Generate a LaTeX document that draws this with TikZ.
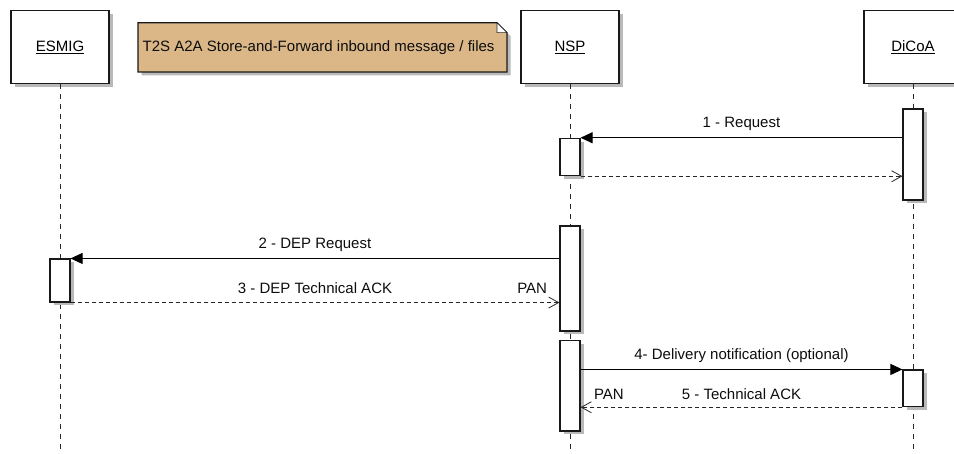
\documentclass[tikz,border=0pt]{standalone}
\usepackage{fontspec}
\setmainfont{Liberation Sans}
\usetikzlibrary{arrows.meta,shadows}
\definecolor{notetan}{RGB}{219,183,136}
\definecolor{shadowgrey}{RGB}{185,185,185}
\begin{document}
\begin{tikzpicture}[x=1pt,y=-1pt,
  font=\fontsize{15}{18}\selectfont,
  shad/.style={general shadow={fill=shadowgrey, shadow xshift=3.5pt, shadow yshift=-3.5pt}},
  header/.style={draw=black!90, fill=white, line width=1.2pt, minimum width=98pt, minimum height=73pt, inner sep=0pt, shad},
  act/.style={draw=black!90, fill=white, line width=1.1pt, minimum width=20pt, inner sep=0pt, shad},
  life/.style={draw=black!85, line width=0.9pt, dash pattern=on 5pt off 5pt},
  msg/.style={draw=black, line width=1pt, -{Triangle[length=12pt,width=11pt]}},
  ret/.style={draw=black!85, line width=0.9pt, dash pattern=on 4pt off 3pt, -{Straight Barb[length=10pt,width=11pt,line width=0.8pt]}},
  lbl/.style={text=black!95, inner sep=0pt}]
\useasboundingbox (0,0) rectangle (954,454);
\clip (0,0) rectangle (954,454);

% header boxes
\node[header] (esmig) at (60,47.3) {\underline{ESMIG}};
\node[header] (nsp) at (570,47.3) {\underline{NSP}};
\node[header] (dicoa) at (913,47.3) {\underline{DiCoA}};

% note
\fill[shadowgrey, shift={(3.5,3.5)}] (138,22.7) -- (497,22.7) -- (507,32.7) -- (507,72) -- (138,72) -- cycle;
\filldraw[fill=notetan, draw=black!90, line width=1.2pt] (138,22.7) -- (497,22.7) -- (507,32.7) -- (507,72) -- (138,72) -- cycle;
\filldraw[fill=white, draw=black!85, line width=0.6pt] (497,22.7) -- (507,32.7) -- (497,32.7) -- cycle;
\node[lbl, anchor=west] (notetext) at (142.5,47.3) {T2S A2A Store-and-Forward inbound message / files};

% lifelines
\coordinate (esmigEnd) at (60,454);
\coordinate (nspEnd) at (570,454);
\coordinate (dicoaEnd) at (913,454);
\draw[life] (esmig.south) -- (esmigEnd);
\draw[life] (nsp.south) -- (nspEnd);
\draw[life] (dicoa.south) -- (dicoaEnd);

% activation boxes
\node[act, minimum height=37.4pt] (a1) at (570,157) {};
\node[act, minimum height=91pt] (d1) at (913,154.5) {};
\node[act, minimum height=105pt] (a2) at (570,278.5) {};
\node[act, minimum height=43pt] (e1) at (60,280.5) {};
\node[act, minimum height=90.3pt] (a3) at (570,385.85) {};
\node[act, minimum height=36.7pt] (d2) at (913,388.35) {};

% messages
\draw[msg] (d1.west |- a1.north) -- (a1.north east)
  node[midway, lbl, yshift=14pt] {1 - Request};
\draw[ret] (a1.south east) -- (d1.west |- a1.south);

\draw[msg] (a2.west |- e1.north) -- (e1.north east)
  node[midway, lbl, yshift=14pt] {2 - DEP Request};
\draw[ret] (e1.south east) -- (a2.west |- e1.south)
  node[midway, lbl, yshift=14pt] {3 - DEP Technical ACK}
  node[at end, lbl, anchor=east, xshift=-12pt, yshift=14pt] {PAN};

\draw[msg] (a3.east |- d2.north) -- (d2.north west)
  node[midway, lbl, yshift=14pt] {4- Delivery notification (optional)};
\draw[ret] (d2.south west) -- (a3.east |- d2.south)
  node[midway, lbl, yshift=13pt] {5 - Technical ACK}
  node[at end, lbl, anchor=west, xshift=13pt, yshift=13pt] {PAN};
\end{tikzpicture}
\end{document}
